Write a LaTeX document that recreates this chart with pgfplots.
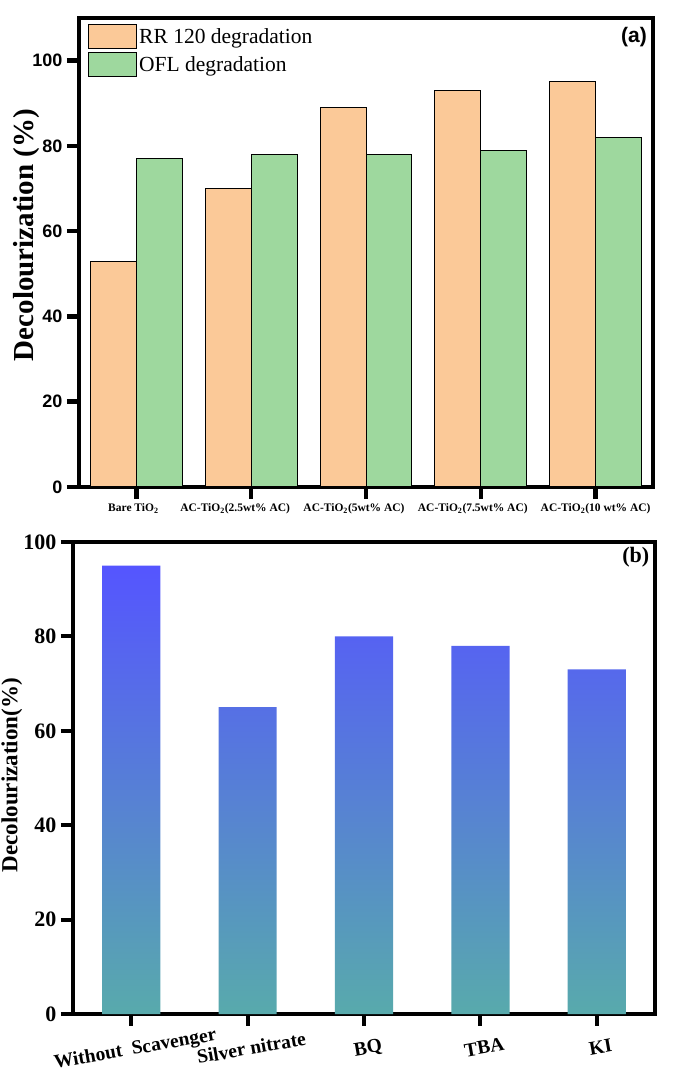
\documentclass[border=0pt]{standalone}
\usepackage{fontspec}
\setmainfont{Liberation Serif}
\setsansfont{Liberation Sans}
\usepackage{pgfplots}
\pgfplotsset{compat=1.18}
\definecolor{rrorange}{RGB}{251,201,152}
\definecolor{ofgreen}{RGB}{158,216,158}
\definecolor{gbtop}{RGB}{85,85,255}
\definecolor{gbbot}{RGB}{88,170,172}
\pgfplotsset{bigleg/.style={legend image code/.code={\draw[##1] (0pt,-12pt) rectangle (48pt,12pt);}}}

\begin{document}
\begin{tikzpicture}
\useasboundingbox (0,0) rectangle (675pt,1071pt);

% (a) degradation by catalyst
\begin{axis}[at={(79pt,584pt)},anchor=south west,scale only axis,
  width=574pt,height=469pt,
  ybar=0pt,bar width=0.4,
  xmin=-0.5,xmax=4.5,ymin=0,ymax=110,
  xtick={0,1,2,3,4},ytick={0,20,40,60,80,100},
  xticklabels={{\kern-6pt Bare TiO\textsubscript{2}},{\kern-32pt AC-TiO\textsubscript{2}(2.5wt\% AC)},
    {\kern-24pt AC-TiO\textsubscript{2}(5wt\% AC)},{\kern-16pt AC-TiO\textsubscript{2}(7.5wt\% AC)},
    {AC-TiO\textsubscript{2}(10 wt\% AC)}},
  xticklabel style={font=\fontsize{11.5}{12}\selectfont\bfseries,yshift=-1pt},
  yticklabel style={font=\fontsize{18}{18}\selectfont\sffamily\bfseries,xshift=-1pt},
  /pgf/number format/assume math mode=true,
  axis line style={line width=4.5pt},
  tick align=outside,tick pos=left,major tick length=12pt,
  xtick style={line width=4.5pt,draw=black},
  ytick style={line width=4.5pt,draw=black},
  ylabel={Decolourization (\%)},
  ylabel style={font=\fontsize{29}{30}\selectfont\bfseries,
    at={(axis description cs:-0.091,0.537)},anchor=center},
  legend style={at={(rel axis cs:0,1)},anchor=north west,draw=none,fill=none,
    xshift=6pt,yshift=-4pt,row sep=3pt,
    font=\fontsize{21.5}{22}\selectfont},
  legend cell align=left]
\addplot[fill=rrorange,draw=black,line width=1pt,bigleg] coordinates
  {(0,53) (1,70) (2,89) (3,93) (4,95)};
\addplot[fill=ofgreen,draw=black,line width=1pt,bigleg] coordinates
  {(0,77) (1,78) (2,78) (3,79) (4,82)};
\legend{RR 120 degradation,OFL degradation}
\node[font=\fontsize{21}{21}\selectfont\sffamily\bfseries] at (rel axis cs:0.967,0.959) {(a)};
\end{axis}

% (b) scavenger tests
\begin{axis}[at={(73pt,57pt)},anchor=south west,scale only axis,
  width=582pt,height=472pt,
  ybar,bar width=0.5,
  xmin=-0.5,xmax=4.5,ymin=0,ymax=100,
  xtick={0,1,2,3,4},ytick={0,20,40,60,80,100},
  xticklabels={{Without~ Scavenger},{Silver nitrate},BQ,TBA,KI},
  xticklabel style={font=\fontsize{19.5}{20}\selectfont\bfseries,rotate=10,anchor=north,
    inner sep=1pt,yshift=-14pt},
  yticklabel style={font=\fontsize{22}{22}\selectfont\bfseries,xshift=-1pt},
  /pgf/number format/assume math mode=true,
  axis line style={line width=4pt},
  tick align=outside,tick pos=left,major tick length=12pt,
  xtick style={line width=4pt,draw=black},
  ytick style={line width=4pt,draw=black},
  ylabel={Decolourization(\%)},
  ylabel style={font=\fontsize{23}{24}\selectfont\bfseries,
    at={(axis description cs:-0.105,0.506)},anchor=center}]
\addplot[draw=none,top color=gbtop,bottom color=gbbot] coordinates
  {(0,95) (1,65) (2,80) (3,78) (4,73)};
\node[font=\fontsize{22}{22}\selectfont\bfseries] at (rel axis cs:0.967,0.968) {(b)};
\end{axis}
\end{tikzpicture}
\end{document}
